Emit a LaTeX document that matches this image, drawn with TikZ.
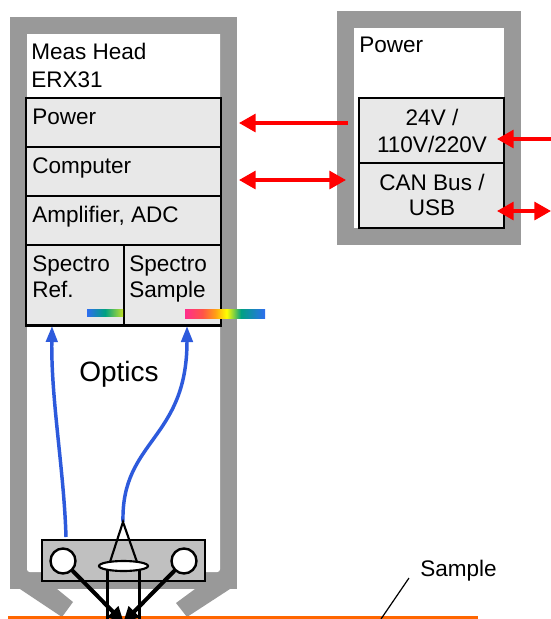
\documentclass[tikz,border=0pt]{standalone}
\usepackage{fontspec}
\setmainfont{Liberation Sans}
\usetikzlibrary{arrows.meta,shapes.geometric,calc}
\definecolor{frameGrey}{RGB}{153,153,153}
\definecolor{boxGrey}{RGB}{232,232,232}
\definecolor{probeGrey}{RGB}{192,192,192}
\definecolor{fibreBlue}{RGB}{45,90,220}
\definecolor{sampleOrange}{RGB}{255,102,0}
\pgfdeclarehorizontalshading{bandBig}{100bp}{
  rgb(0bp)=(1,.18,.55);
  rgb(25bp)=(1,.18,.55);
  rgb(36bp)=(1,.33,.28);
  rgb(44bp)=(1,.63,.08);
  rgb(51bp)=(1,1,0);
  rgb(60bp)=(0,.63,.51);
  rgb(75bp)=(.18,.43,.94);
  rgb(100bp)=(.18,.43,.94)}
\pgfdeclarehorizontalshading{bandSmall}{100bp}{
  rgb(0bp)=(.18,.43,.94);
  rgb(25bp)=(.18,.43,.94);
  rgb(50bp)=(0,.63,.51);
  rgb(75bp)=(.75,.88,.16);
  rgb(100bp)=(.75,.88,.16)}
\tikzset{
  txt/.style={inner sep=0pt,anchor=base west,align=left,
    font=\fontsize{16.9}{20.2}\selectfont},
  midtxt/.style={txt,anchor=base,align=center},
  unitbox/.style={draw=black,line width=1.6pt,fill=boxGrey,inner sep=0pt,outer sep=0pt,anchor=north west},
  power/.style={red,line width=2.4pt,-{Triangle[length=12.5pt,width=13.5pt]}},
  powerboth/.style={red,line width=2.4pt,{Triangle[length=12.5pt,width=13.5pt]}-{Triangle[length=12.5pt,width=13.5pt]}},
  fibre/.style={fibreBlue,line width=2.6pt,-{Triangle[length=12pt,width=8.5pt]}},
  ray/.style={black,line width=1.6pt},
  beam/.style={black,line width=3pt,-{Triangle[length=12pt,width=11pt]}},
}
\begin{document}
\begin{tikzpicture}[x=0.75pt,y=-0.75pt]
  \useasboundingbox (0,0) rectangle (551,619);
  \clip (0,0) rectangle (551,619);
  % Housings
  \fill [frameGrey] (10,17) rectangle (237,589);
  \fill [white] (27,34) -- (220,34) [rounded corners=2pt] -- (220,572) -- (27,572) [sharp corners] -- cycle;
  \fill [frameGrey] (20,589) -- (62,617) -- (73,602) -- (57,589) -- cycle;
  \fill [frameGrey] (230,589) -- (187,617) -- (176,603) -- (195,589) -- cycle;
  \fill [frameGrey] (337,11) rectangle (521,245);
  \fill [white] (354,28) rectangle (504,228);
  % Meas head stack
  \foreach \name/\top in {powerIn/98,computer/147,amplifier/196} {
    \node [unitbox, minimum width=195*0.75pt, minimum height=49*0.75pt] (\name) at (26,\top) {};
  }
  \node [unitbox, minimum width=98*0.75pt, minimum height=80.5*0.75pt] (specRef) at (26,245) {};
  \node [unitbox, minimum width=97*0.75pt, minimum height=80.5*0.75pt] (specSample) at (124,245) {};
  % Power stack
  \node [unitbox, minimum width=145*0.75pt, minimum height=65*0.75pt] (mains) at (359,98) {};
  \node [unitbox, minimum width=145*0.75pt, minimum height=65*0.75pt] (canBus) at (359,163) {};
  % Labels
  \node [txt] (headText) at (31,59) {Meas Head};
  \node [txt] (headTextB) at (31,87) {ERX31};
  \node [txt] (powerInText) at (32,124) {Power};
  \node [txt] (computerText) at (32,173) {Computer};
  \node [txt] (amplifierText) at (32,222.5) {Amplifier, ADC};
  \node [txt] (refText) at (32,271) {Spectro};
  \node [txt] (refTextB) at (32,297) {Ref.};
  \node [txt] (sampleText) at (129,271) {Spectro};
  \node [txt] (sampleTextB) at (129,297) {Sample};
  \node [txt] (supplyText) at (359,52) {Power};
  \node [midtxt] (mainsText) at (432,125) {24V /};
  \node [midtxt] (mainsTextB) at (432,152) {110V/220V};
  \node [midtxt] (canText) at (432,190) {CAN Bus /};
  \node [midtxt] (canTextB) at (432,215) {USB};
  \node [txt, font=\fontsize{21}{25}\selectfont] (opticsText) at (79,381) {Optics};
  \node [txt] (sampleName) at (420,576) {Sample};
  % Spectrum bands
  \shade [shading=bandSmall] (87,309) rectangle (123,316);
  \shade [shading=bandBig] (185,309) rectangle (265,318);
  % Sample
  \fill [sampleOrange] (8,616) rectangle (478,620);
  \coordinate (leaderFoot) at (381,619);
  \coordinate (leaderTop) at (409,578);
  \draw [line width=0.9pt] (leaderFoot) -- (leaderTop);
  % Red connectors
  \coordinate (supplyOut) at (348,123);
  \coordinate (headPower) at (239,123);
  \coordinate (supplyBus) at (346,180);
  \coordinate (headBus) at (239,180);
  \coordinate (mainsEnd) at (551,139);
  \coordinate (mainsTip) at (497,139);
  \coordinate (usbEnd) at (551,211);
  \coordinate (usbTip) at (497,211);
  \draw [power] (supplyOut) -- (headPower);
  \draw [powerboth] (headBus) -- (supplyBus);
  \draw [power] (mainsEnd) -- (mainsTip);
  \draw [powerboth] (usbTip) -- (usbEnd);
  % Probe
  \node [draw=black, line width=1.6pt, fill=probeGrey, inner sep=0pt, outer sep=0pt, anchor=north west,
    minimum width=163*0.75pt, minimum height=41*0.75pt] (probe) at (42,540) {};
  \coordinate (refFibre) at (66,537);
  \coordinate (refEnd) at (52,326);
  \coordinate (sampleFibre) at (123,522);
  \coordinate (sampleEnd) at (187,326);
  \draw [fibre] (refFibre) .. controls (64,470) and (51,400) .. (refEnd);
  \draw [fibre] (sampleFibre) .. controls (121,440) and (187,440) .. (sampleEnd);
  \coordinate (rayLeft) at (110,562);
  \coordinate (rayRight) at (137,562);
  \coordinate (footLeft) at (107.5,625);
  \coordinate (footRight) at (139.5,625);
  \draw [ray] (rayLeft) -- (sampleFibre) -- (rayRight);
  \draw [ray] (107.5,566) -- (footLeft);
  \draw [ray] (139.5,566) -- (footRight);
  \node [ellipse, draw=black, line width=1.6pt, fill=white, inner sep=0pt,
    minimum width=49*0.75pt, minimum height=10*0.75pt] (lens) at (123.5,566) {};
  \foreach \name/\cx in {lampRef/63,lampSample/184} {
    \node [circle, draw=black, line width=1.8pt, fill=white, inner sep=0pt, outer sep=0pt,
      minimum size=25*0.75pt] (\name) at (\cx,561) {};
  }
  \coordinate (spotLeft) at (124,623);
  \coordinate (spotRight) at (123,623);
  \draw [beam] (lampRef) -- (spotLeft);
  \draw [beam] (lampSample) -- (spotRight);
\end{tikzpicture}
\end{document}
